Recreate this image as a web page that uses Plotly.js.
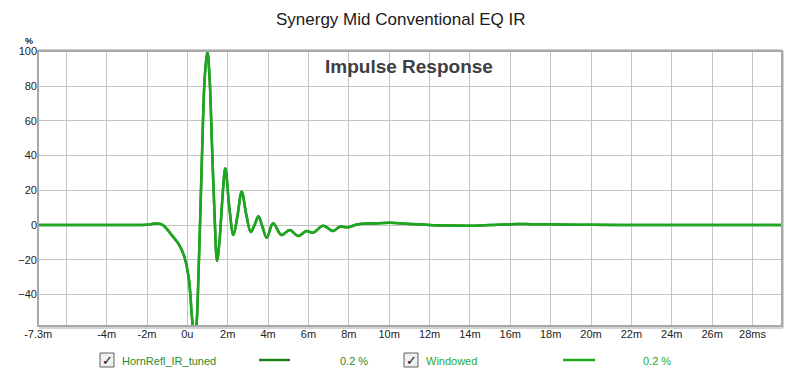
<!DOCTYPE html>
<html>
<head>
<meta charset="utf-8">
<script src="https://cdn.plot.ly/plotly-3.0.1.min.js"></script>
<style>html,body{margin:0;padding:0;background:#fff;}#chart{width:800px;height:375px;}</style>
</head>
<body>
<div id="chart"></div>
<script>
// time in ms
var timeMs = [-7.4, -4, -2.4, -2.0, -1.75, -1.5, -1.25, -1.0, -0.8, -0.6, -0.38, -0.13, 0.08, 0.2, 0.28, 0.36, 0.45, 0.56, 0.66, 0.74, 0.86, 0.99, 1.1, 1.22, 1.35, 1.47, 1.6, 1.74, 1.88, 2.08, 2.28, 2.48, 2.69, 2.92, 3.14, 3.33, 3.52, 3.72, 3.93, 4.25, 4.66, 5.07, 5.49, 5.9, 6.23, 6.73, 7.22, 7.55, 7.97, 8.46, 9.2, 10.04, 11, 12, 13, 14, 15, 16, 17, 18, 19, 20, 22, 24, 26, 28, 29.46];
var tunedPct = [0, 0, 0, 0.1, 0.6, 0.9, 0.2, -2.5, -5.5, -8.3, -12, -19, -31.7, -49, -60, -66, -58, -25, 14, 46, 85, 100, 85, 46, 5, -20.6, -8, 16, 32.7, 10, -5.8, 5, 19.2, 6, -4, 0, 5, -1, -7.4, 1, -5.8, -2.9, -6.3, -3.5, -4.4, -0.4, -3.5, -1, -1.3, 0.5, 0.9, 1.3, 0.6, 0, -0.3, -0.4, 0, 0.5, 0.5, 0.4, 0.2, 0.1, 0, 0, 0, 0, 0];
var windowedPct = tunedPct.slice();
var xTickVals = [-7.39, -6, -4, -2, 0, 2, 4, 6, 8, 10, 12, 14, 16, 18, 20, 22, 24, 26, 28];
var xTickText = ['-7.3m', '', '-4m', '-2m', '0u', '2m', '4m', '6m', '8m', '10m', '12m', '14m', '16m', '18m', '20m', '22m', '24m', '26m', '28ms'];
var yTickVals = [-40, -20, 0, 20, 40, 60, 80, 100];
var seriesNames = ['HornRefl_IR_tuned', 'Windowed'];
var seriesSmoothing = ['0.2 %', '0.2 %'];

var font = 'Arial, "Liberation Sans", sans-serif';
var traces = [
  {x: timeMs, y: tunedPct, type: 'scatter', mode: 'lines', name: seriesNames[0],
   line: {color: '#1f7f1f', width: 2.5, shape: 'spline', smoothing: 1}, hoverinfo: 'skip'},
  {x: timeMs, y: windowedPct, type: 'scatter', mode: 'lines', name: seriesNames[1],
   line: {color: '#1ea61e', width: 2.5, shape: 'spline', smoothing: 1}, hoverinfo: 'skip'}
];

function px(x) { return (x - 38) / 744; }
function py(y) { return (326 - y) / 275; }

var shapes = [
  // frame shadow
  {type: 'line', xref: 'paper', yref: 'paper', x0: px(783), x1: px(783), y0: py(328), y1: 1, line: {color: '#d4d4d4', width: 2}},
  {type: 'line', xref: 'paper', yref: 'paper', x0: px(39), x1: px(783), y0: py(328), y1: py(328), line: {color: '#d4d4d4', width: 2}},
  {type: 'line', xref: 'paper', yref: 'paper', x0: 0, x1: 1, y0: py(50), y1: py(50), line: {color: '#d0d0d0', width: 2}},
  {type: 'rect', xref: 'paper', yref: 'paper', x0: 0, x1: 1, y0: 0, y1: 1, line: {color: '#a8a8a8', width: 2}}
];
var annotations = [
  {text: 'Synergy Mid Conventional EQ IR', xref: 'paper', yref: 'paper', x: px(400), y: py(20), showarrow: false,
   font: {family: font, size: 17, color: '#1a1a1a'}, xanchor: 'center', yanchor: 'middle'},
  {text: '<b>Impulse Response</b>', xref: 'paper', yref: 'paper', x: px(409), y: py(66), showarrow: false,
   font: {family: font, size: 19, color: '#404040'}, xanchor: 'center', yanchor: 'middle'},
  {text: '<b>%</b>', xref: 'paper', yref: 'paper', x: px(29), y: py(41), showarrow: false,
   font: {family: font, size: 9, color: '#222'}, xanchor: 'center', yanchor: 'middle'}
];

var legendItems = [
  {box: 100, name: 120, lineX0: 259, lineX1: 290, pct: 354, nameColor: '#2a8a2a', lineColor: '#1f7f1f', pctColor: '#2a8a2a'},
  {box: 404, name: 424, lineX0: 563, lineX1: 595, pct: 657, nameColor: '#2aaa2a', lineColor: '#1ea61e', pctColor: '#2aaa2a'}
];
legendItems.forEach(function (it, i) {
  shapes.push({type: 'rect', xref: 'paper', yref: 'paper', x0: px(it.box), x1: px(it.box + 14), y0: py(367), y1: py(353),
    line: {color: '#606060', width: 1}, fillcolor: '#f0f0f0'});
  annotations.push({text: '<b>✓</b>', xref: 'paper', yref: 'paper', x: px(it.box + 7), y: py(360), showarrow: false,
    font: {family: '"DejaVu Sans", sans-serif', size: 13, color: '#111'}, xanchor: 'center', yanchor: 'middle'});
  annotations.push({text: seriesNames[i], xref: 'paper', yref: 'paper', x: px(it.name), y: py(360.5), showarrow: false,
    font: {family: font, size: 11, color: it.nameColor}, xanchor: 'left', yanchor: 'middle'});
  shapes.push({type: 'line', xref: 'paper', yref: 'paper', x0: px(it.lineX0), x1: px(it.lineX1), y0: py(360), y1: py(360),
    line: {color: it.lineColor, width: 2.5}});
  annotations.push({text: seriesSmoothing[i], xref: 'paper', yref: 'paper', x: px(it.pct), y: py(360.5), showarrow: false,
    font: {family: font, size: 11, color: it.pctColor}, xanchor: 'center', yanchor: 'middle'});
});

var layout = {
  width: 800, height: 375,
  margin: {l: 38, r: 18, t: 51, b: 49},
  paper_bgcolor: '#ffffff', plot_bgcolor: '#ffffff',
  showlegend: false,
  xaxis: {range: [-7.4, 29.46], tickmode: 'array', tickvals: xTickVals, ticktext: xTickText,
    showgrid: true, gridcolor: '#c4c4c4', gridwidth: 1, zeroline: false, showline: false, ticks: '',
    tickfont: {family: font, size: 11, color: '#222'}, fixedrange: true},
  yaxis: {range: [-58.2, 100.3], tickmode: 'array', tickvals: yTickVals,
    showgrid: true, gridcolor: '#c4c4c4', gridwidth: 1, zeroline: false, showline: false, ticks: '',
    tickfont: {family: font, size: 11, color: '#222'}, fixedrange: true},
  shapes: shapes,
  annotations: annotations
};
Plotly.newPlot('chart', traces, layout, {displayModeBar: false, staticPlot: true});
</script>
</body>
</html>
